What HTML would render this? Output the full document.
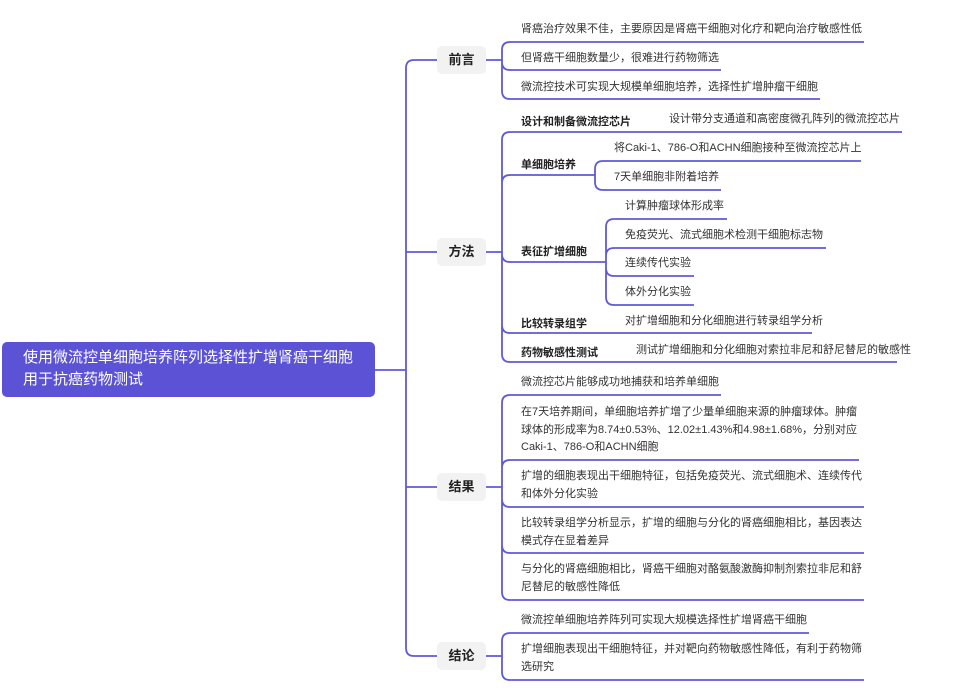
<!DOCTYPE html>
<html><head><meta charset="utf-8"><style>
body{margin:0;background:#fff;width:955px;height:699px;position:relative;overflow:hidden;font-family:"Liberation Sans","Noto Sans CJK SC",sans-serif;}
.t{position:absolute;font-size:11px;color:#333;white-space:nowrap;line-height:17.5px;}
.b{position:absolute;font-size:11px;color:#222;font-weight:bold;white-space:nowrap;}
.lab{position:absolute;width:49px;height:28px;background:#f2f2f3;border-radius:5px;font-size:13px;font-weight:bold;color:#222;text-align:center;line-height:28px;}
.root{position:absolute;left:2px;top:342px;width:373px;height:55px;background:#5b52d6;border-radius:5px;color:#fff;font-size:15px;line-height:22px;padding:5px 0 0 21px;box-sizing:border-box;}
svg{position:absolute;left:0;top:0;}
</style></head><body>
<svg width="955" height="699" fill="none" stroke="#5f5ad8" stroke-width="1.8">
<path d="M375,370 L406,370"/>
<path d="M437,60 L414,60 Q406,60 406,68 L406,648 Q406,656 414,656 L437,656"/>
<path d="M406,252 L437,252 M406,487 L437,487"/>
<path d="M486,60 L502,60 M502,60 L502,50 Q502,42 510,42 L864,42 M502,60 L502,62 Q502,70 510,70 L721,70 M502,60 L502,91 Q502,99 510,99 L820,99"/>
<path d="M486,252 L502,252 M502,252 L502,140 Q502,132 510,132 L902,132 M502,252 L502,183 Q502,175 510,175 L595,175 M502,252 L502,254 Q502,262 510,262 L606,262 M502,252 L502,325 Q502,333 510,333 L812,333 M502,252 L502,354 Q502,362 510,362 L897,362"/>
<path d="M595,175 L595,169 Q595,161 603,161 L861,161 M595,175 L595,182 Q595,190 603,190 L721,190"/>
<path d="M606,262 L606,227 Q606,219 614,219 L727,219 M606,262 L606,256 Q606,248 614,248 L826,248 M606,262 L606,268 Q606,276 614,276 L694,276 M606,262 L606,297 Q606,305 614,305 L694,305"/>
<path d="M486,487 L502,487 M502,487 L502,403 Q502,395 510,395 L721,395 M502,487 L502,468 Q502,460 510,460 L859,460 M502,487 L502,499 Q502,507 510,507 L864,507 M502,487 L502,545 Q502,553 510,553 L864,553 M502,487 L502,592 Q502,600 510,600 L864,600"/>
<path d="M486,656 L502,656 M502,656 L502,641 Q502,633 510,633 L809,633 M502,656 L502,672 Q502,680 510,680 L864,680"/>
</svg>
<div class="root">使用微流控单细胞培养阵列选择性扩增肾癌干细胞<br>用于抗癌药物测试</div>
<div class="lab" style="left:437px;top:46px">前言</div>
<div class="lab" style="left:437px;top:238px">方法</div>
<div class="lab" style="left:437px;top:473px">结果</div>
<div class="lab" style="left:437px;top:642px">结论</div>

<div class="t" style="left:521px;top:21px">肾癌治疗效果不佳，主要原因是肾癌干细胞对化疗和靶向治疗敏感性低</div>
<div class="t" style="left:521px;top:50px">但肾癌干细胞数量少，很难进行药物筛选</div>
<div class="t" style="left:521px;top:79px">微流控技术可实现大规模单细胞培养，选择性扩增肿瘤干细胞</div>

<div class="b" style="left:521px;top:113px">设计和制备微流控芯片</div>
<div class="t" style="left:669px;top:111px">设计带分支通道和高密度微孔阵列的微流控芯片</div>
<div class="b" style="left:521px;top:156px">单细胞培养</div>
<div class="t" style="left:614px;top:140px">将Caki-1、786-O和ACHN细胞接种至微流控芯片上</div>
<div class="t" style="left:614px;top:169px">7天单细胞非附着培养</div>
<div class="b" style="left:521px;top:243px">表征扩增细胞</div>
<div class="t" style="left:625px;top:198px">计算肿瘤球体形成率</div>
<div class="t" style="left:625px;top:227px">免疫荧光、流式细胞术检测干细胞标志物</div>
<div class="t" style="left:625px;top:255px">连续传代实验</div>
<div class="t" style="left:625px;top:284px">体外分化实验</div>
<div class="b" style="left:521px;top:315px">比较转录组学</div>
<div class="t" style="left:625px;top:313px">对扩增细胞和分化细胞进行转录组学分析</div>
<div class="b" style="left:521px;top:344px">药物敏感性测试</div>
<div class="t" style="left:636px;top:342px">测试扩增细胞和分化细胞对索拉非尼和舒尼替尼的敏感性</div>

<div class="t" style="left:521px;top:374px">微流控芯片能够成功地捕获和培养单细胞</div>
<div class="t" style="left:521px;top:404px">在7天培养期间，单细胞培养扩增了少量单细胞来源的肿瘤球体。肿瘤<br>球体的形成率为8.74±0.53%、12.02±1.43%和4.98±1.68%，分别对应<br>Caki-1、786-O和ACHN细胞</div>
<div class="t" style="left:521px;top:468px">扩增的细胞表现出干细胞特征，包括免疫荧光、流式细胞术、连续传代<br>和体外分化实验</div>
<div class="t" style="left:521px;top:515px">比较转录组学分析显示，扩增的细胞与分化的肾癌细胞相比，基因表达<br>模式存在显着差异</div>
<div class="t" style="left:521px;top:561px">与分化的肾癌细胞相比，肾癌干细胞对酪氨酸激酶抑制剂索拉非尼和舒<br>尼替尼的敏感性降低</div>

<div class="t" style="left:521px;top:612px">微流控单细胞培养阵列可实现大规模选择性扩增肾癌干细胞</div>
<div class="t" style="left:521px;top:641px">扩增细胞表现出干细胞特征，并对靶向药物敏感性降低，有利于药物筛<br>选研究</div>
</body></html>
